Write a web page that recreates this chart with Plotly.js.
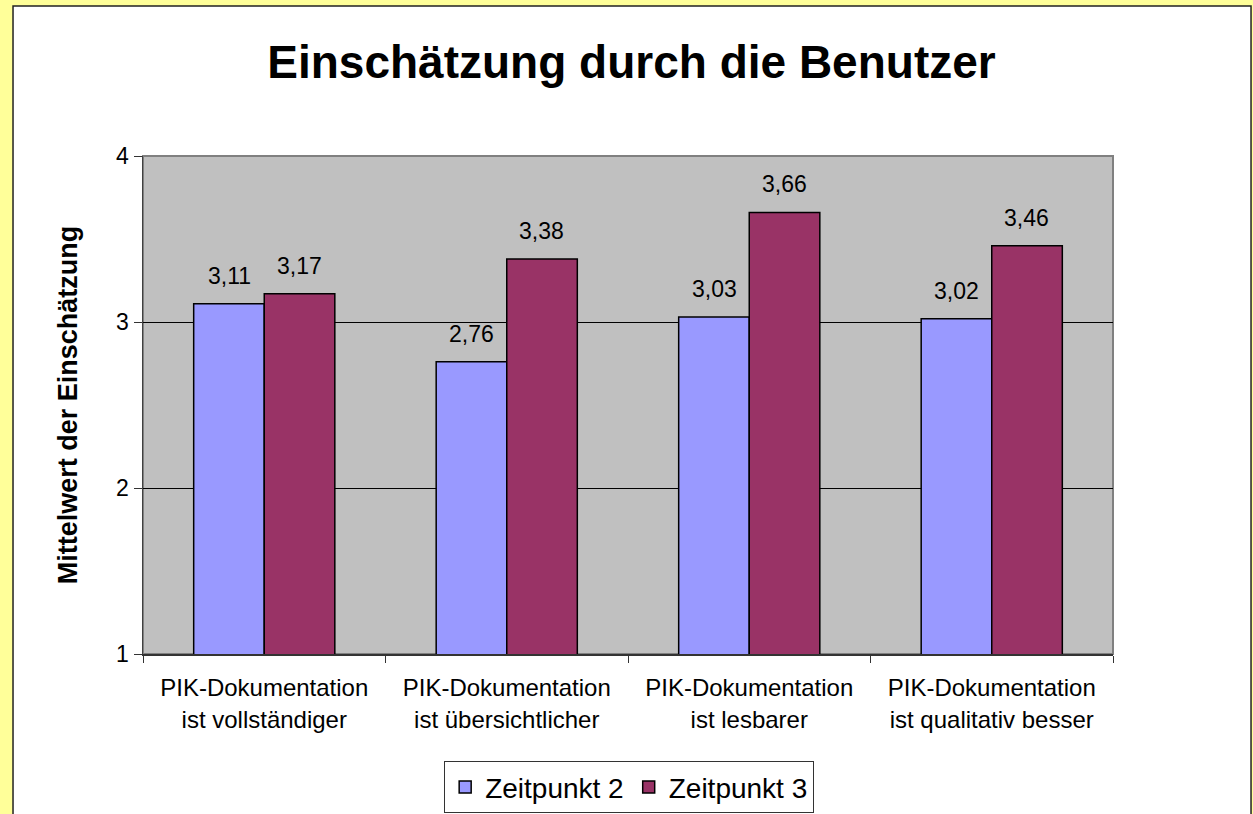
<!DOCTYPE html>
<html>
<head>
<meta charset="utf-8">
<script src="https://cdn.plot.ly/plotly-3.0.1.min.js"></script>
<style>
html,body{margin:0;padding:0;background:#FFFF99;}
#chart{width:1253px;height:814px;}
</style>
</head>
<body>
<div id="chart"></div>
<script>
// ---- data ----
const categories = [
  "PIK-Dokumentation<br>ist vollständiger",
  "PIK-Dokumentation<br>ist übersichtlicher",
  "PIK-Dokumentation<br>ist lesbarer",
  "PIK-Dokumentation<br>ist qualitativ besser"
];
const seriesNames = ["Zeitpunkt 2", "Zeitpunkt 3"];
const zeitpunkt2 = [3.11, 2.76, 3.03, 3.02];
const zeitpunkt3 = [3.17, 3.38, 3.66, 3.46];
const yTicks = [1, 2, 3, 4];
const titleText = "Einschätzung durch die Benutzer";
const yTitleText = "Mittelwert der Einschätzung";

const FONT = "Liberation Sans, Arial, sans-serif";
const fmt = v => v.toFixed(2).replace('.', ',');

const traces = [
  {type:'bar', name:seriesNames[0], x:categories, y:zeitpunkt2,
   marker:{color:'#9999FF', line:{color:'#000000', width:1.5}}, hoverinfo:'none'},
  {type:'bar', name:seriesNames[1], x:categories, y:zeitpunkt3,
   marker:{color:'#993366', line:{color:'#000000', width:1.5}}, hoverinfo:'none'}
];

const annotations = [];
[zeitpunkt2, zeitpunkt3].forEach((vals, si) => {
  vals.forEach((v, i) => {
    annotations.push({
      x: categories[i], y: v, xref:'x', yref:'y',
      text: fmt(v), showarrow:false,
      xshift: si === 0 ? -35 : 35, yshift: 13, yanchor:'bottom',
      font:{family:FONT, size:23, color:'#000'}
    });
  });
});

const layout = {
  width:1253, height:814,
  paper_bgcolor:'#FFFF99',
  plot_bgcolor:'rgba(0,0,0,0)',
  margin:{l:143, r:140, t:156, b:160, autoexpand:false},
  font:{family:FONT, color:'#000'},
  title:{text:'<b>'+titleText+'</b>', x:0.504, xanchor:'center', y:0.924, yanchor:'middle',
         font:{family:FONT, size:46, color:'#000'}},
  barmode:'group', bargap:0.418, bargroupgap:0,
  showlegend:true,
  legend:{orientation:'h', x:0.501, xanchor:'center', y:-0.215, yanchor:'top',
          bordercolor:'#333333', borderwidth:1.2, bgcolor:'#FFFFFF',
          font:{family:FONT, size:28, color:'#000'}, itemwidth:30, tracegroupgap:0},
  xaxis:{type:'category', tickson:'boundaries', ticks:'outside', ticklen:7, tickcolor:'#333',
         showline:true, linecolor:'#333333', linewidth:1.5, showgrid:false, ticklabelstandoff:12,
         tickfont:{family:FONT, size:24, color:'#000'}, automargin:false, fixedrange:true},
  yaxis:{range:[1,4], tickvals:yTicks, ticktext:yTicks.map(String), ticks:'outside', ticklen:8,
         tickcolor:'#333', showline:true, linecolor:'#404040', linewidth:1.5,
         showgrid:true, gridcolor:'#000000', gridwidth:1, zeroline:false,
         tickfont:{family:FONT, size:23, color:'#000'}, automargin:false, fixedrange:true,
         title:{text:'<b>'+yTitleText+'</b>', standoff:30, font:{family:FONT, size:27, color:'#000'}}},
  shapes:[
    {type:'rect', xref:'paper', yref:'paper', x0:-0.134, x1:1.1423, y0:-0.36, y1:1.3012,
     fillcolor:'#FFFFFF', line:{color:'#222222', width:1.5}, layer:'below'},
    {type:'rect', xref:'paper', yref:'paper', x0:0, x1:1, y0:0, y1:1,
     fillcolor:'#C0C0C0', line:{color:'#808080', width:2}, layer:'below'}
  ],
  annotations: annotations
};

Plotly.newPlot('chart', traces, layout, {displayModeBar:false, staticPlot:true});
</script>
</body>
</html>
